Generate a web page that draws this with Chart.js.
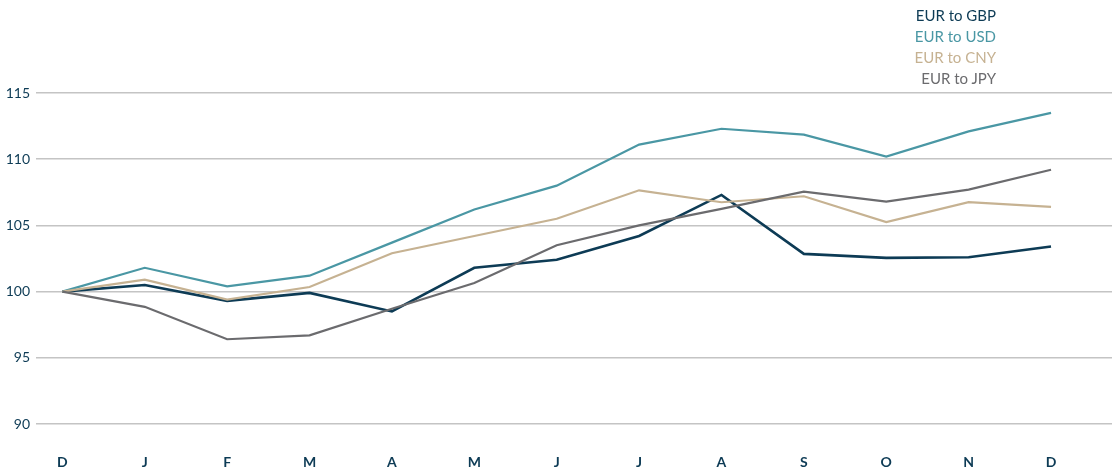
<!DOCTYPE html>
<html>
<head>
<meta charset="utf-8">
<script src="https://cdn.jsdelivr.net/npm/chart.js@4/dist/chart.umd.min.js"></script>
<style>
    html, body { margin: 0; padding: 0; background: #fff; }
    #wrap { position: relative; width: 1120px; height: 476px; }
    #legend {
        position: absolute; right: 124px; top: 5px; text-align: right;
        font-family: Lato, "Open Sans", sans-serif; font-size: 15px; line-height: 21px;
    }
</style>
</head>
<body>
<div id="wrap">
    <canvas id="fx" width="1120" height="476"></canvas>
    <div id="legend"></div>
</div>
<script>
const months = ["D", "J", "F", "M", "A", "M", "J", "J", "A", "S", "O", "N", "D"];
const eurGbp = [100, 100.5, 99.3, 99.9, 98.5, 101.8, 102.4, 104.2, 107.3, 102.85, 102.55, 102.6, 103.4];
const eurUsd = [100, 101.8, 100.4, 101.2, 103.7, 106.2, 108.0, 111.1, 112.3, 111.85, 110.2, 112.1, 113.5];
const eurCny = [100, 100.9, 99.4, 100.35, 102.9, 104.2, 105.5, 107.65, 106.75, 107.2, 105.25, 106.75, 106.4];
const eurJpy = [100, 98.85, 96.4, 96.7, 98.7, 100.65, 103.5, 105.0, 106.25, 107.55, 106.8, 107.7, 109.2];
const yTicks = [90, 95, 100, 105, 110, 115];

const SERIES = [
    { label: "EUR to GBP", values: eurGbp, color: "#0d3b55", width: 2.6 },
    { label: "EUR to USD", values: eurUsd, color: "#4a97a4", width: 2.2 },
    { label: "EUR to CNY", values: eurCny, color: "#c6b292", width: 2.2 },
    { label: "EUR to JPY", values: eurJpy, color: "#6b6b6e", width: 2.2 },
];
const FONT = "Lato, 'Open Sans', sans-serif";

const legendEl = document.getElementById("legend");
SERIES.forEach((s) => {
    const row = document.createElement("div");
    row.textContent = s.label;
    row.style.color = s.color;
    legendEl.appendChild(row);
});

// draw order: JPY, CNY, USD, then GBP on top
const datasets = SERIES.slice().reverse().map((s) => ({
    label: s.label,
    data: s.values.map((v, i) => ({ x: i, y: v })),
    borderColor: s.color,
    borderWidth: s.width,
    pointRadius: 0,
    tension: 0,
    fill: false,
}));

new Chart(document.getElementById("fx"), {
    type: "line",
    data: { datasets },
    options: {
        responsive: false,
        animation: false,
        layout: { padding: { top: 93, right: 8, left: 0, bottom: 0 } },
        plugins: { legend: { display: false }, tooltip: { enabled: false } },
        scales: {
            x: {
                type: "linear",
                min: -0.32,
                max: 12.74,
                grid: { display: false },
                border: { display: false },
                afterBuildTicks: (axis) => {
                    axis.ticks = months.map((m, i) => ({ value: i }));
                },
                afterFit: (axis) => { axis.height = 52; },
                ticks: {
                    padding: 22,
                    color: "#0d3b55",
                    font: { family: FONT, size: 14, weight: "bold" },
                    callback: (value) => months[value],
                },
            },
            y: {
                min: 90,
                max: 115,
                afterBuildTicks: (axis) => {
                    axis.ticks = yTicks.map((v) => ({ value: v }));
                },
                afterFit: (axis) => { axis.width = 36; },
                grid: { color: "#c4c4c4", lineWidth: 1.5, drawTicks: false },
                border: { display: false },
                ticks: {
                    padding: 6,
                    color: "#0d3b55",
                    font: { family: FONT, size: 14 },
                },
            },
        },
    },
});
</script>
</body>
</html>
